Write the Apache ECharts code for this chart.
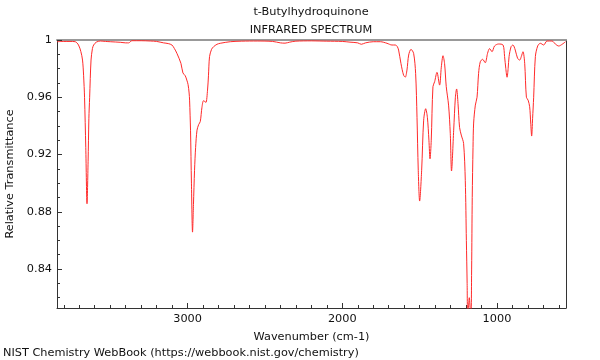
<!DOCTYPE html>
<html>
<head>
<meta charset="utf-8">
<script src="https://cdn.jsdelivr.net/npm/echarts@6/dist/echarts.min.js"></script>
<style>html,body{margin:0;padding:0;background:#fff}#c{width:600px;height:360px}</style>
</head>
<body>
<div id="c"></div>
<script>
const titleLines = ["t-Butylhydroquinone", "INFRARED SPECTRUM"];
const xName = "Wavenumber (cm-1)";
const yName = "Relative Transmittance";
const footer = "NIST Chemistry WebBook (https://webbook.nist.gov/chemistry)";

const wavenumbers = [
3844,3800,3760,3726,3705,3690,3679,3672,3666,3658,3650,3643,3638,3633,3624,3615,3607,3590,3564,3530,
3500,3435,3400,3381,3360,3300,3241,3200,3155,3125,3101,3085,3069,3043,3030,3015,3005,2997,2990,2987,
2981,2975,2968,2962,2955,2948,2939,2928,2918,2907,2897,2888,2881,2871,2865,2858,2845,2832,2810,2789,
2724,2650,2550,2450,2400,2370,2340,2300,2200,2100,2000,1950,1900,1877,1850,1800,1754,1711,1679,1657,
1645,1636,1621,1604,1593,1582,1571,1556,1539,1526,1517,1509,1500,1487,1474,1461,1450,1440,1433,1425,
1414,1403,1388,1371,1360,1349,1339,1328,1313,1302,1294,1280,1269,1261,1252,1242,1231,1216,1205,1198,
1193,1190,1185,1179,1173,1168,1164,1160,1155,1151,1140,1129,1119,1108,1093,1076,1061,1048,1032,1016,
990,961,951,943,935,928,922,909,897,882,867,853,843,832,821,810,799,789,782,776,
770,763,752,737,720,698,677,644,623,601,579,557
];
const transmittance = [
0.9988,0.9990,0.9990,0.9988,0.9965,0.992,0.986,0.975,0.960,0.925,0.8856,0.915,0.945,0.960,0.986,0.994,0.9965,0.9985,0.9993,0.999,
0.9988,0.9984,0.998,0.998,0.9995,0.9995,0.9993,0.999,0.998,0.9975,0.9965,0.994,0.9907,0.9837,0.977,0.9750,0.972,0.9690,0.963,0.958,
0.937,0.90,0.8658,0.885,0.909,0.925,0.937,0.941,0.943,0.953,0.9576,0.957,0.9564,0.965,0.975,0.9884,0.9935,0.9953,0.997,0.9977,
0.9988,0.9992,0.9993,0.999,0.998,0.9978,0.9985,0.9992,0.9994,0.9992,0.999,0.9985,0.998,0.997,0.998,0.9988,0.9988,0.9977,0.9965,0.9965,
0.9955,0.993,0.9837,0.9755,0.974,0.979,0.9895,0.9935,0.9907,0.9767,0.946,0.909,0.8875,0.909,0.944,0.952,0.946,0.93,0.917,0.930,
0.9674,0.9709,0.9774,0.9685,0.981,0.989,0.9837,0.9674,0.9545,0.9348,0.9085,0.937,0.960,0.9658,0.9557,0.939,0.9336,0.9278,0.902,0.86,
0.83,0.806,0.812,0.820,0.812,0.806,0.84,0.89,0.925,0.942,0.9545,0.960,0.9767,0.9848,0.9865,0.9841,0.9907,0.994,0.9918,0.9958,
0.9972,0.9965,0.9884,0.98,0.974,0.98,0.9884,0.9953,0.9965,0.993,0.9872,0.986,0.9884,0.9918,0.9837,0.960,0.958,0.9534,0.942,0.9329,
0.945,0.960,0.9884,0.9958,0.9977,0.9965,0.9993,0.9993,0.9972,0.9958,0.997,0.9988
];
const xMajorTicks = [1000, 2000, 3000];
const xMinorTicks = [600,700,800,900,1100,1200,1300,1400,1500,1600,1700,1800,1900,2100,2200,2300,2400,2500,2600,2700,2800,2900,3100,3200,3300,3400,3500,3600,3700,3800];
const yMajorTicks = [0.84, 0.88, 0.92, 0.96, 1];
const yMinorTicks = [0.82,0.83,0.85,0.86,0.87,0.89,0.90,0.91,0.93,0.94,0.95,0.97,0.98,0.99];
const xRange = [554, 3844];
const yRange = [0.8128, 1];

const data = wavenumbers.map((w, i) => [w, transmittance[i]]);
const FONT = "DejaVu Sans";
const FS = 11.3;
const CSSFONT = FS + 'px "DejaVu Sans"';
const chart = echarts.init(document.getElementById('c'), null, {renderer: 'canvas'});
const G = {left: 57, right: 34, top: 40, bottom: 52};

function xa(extra) {
  return Object.assign({
    type: 'value', inverse: true, min: xRange[0], max: xRange[1],
    splitLine: {show: false}, axisLabel: {show: false}, axisTick: {show: false}, axisLine: {show: false}
  }, extra);
}
function ya(extra) {
  return Object.assign({
    type: 'value', min: yRange[0], max: yRange[1],
    splitLine: {show: false}, axisLabel: {show: false}, axisTick: {show: false}, axisLine: {show: false}
  }, extra);
}

chart.setOption({
  animation: false,
  backgroundColor: '#fff',
  grid: G,
  xAxis: [
    xa({position: 'bottom',
        axisLine: {show: true, onZero: false, lineStyle: {color: '#333', width: 1}},
        axisTick: {show: true, inside: true, length: 5, customValues: xMajorTicks, lineStyle: {color: '#333'}},
        axisLabel: {show: true, customValues: xMajorTicks, margin: 6, color: '#111', fontFamily: FONT, fontSize: FS,
          formatter: v => String(Math.round(v))},
        name: xName, nameLocation: 'middle', nameGap: 24,
        nameTextStyle: {color: '#111', fontFamily: FONT, fontSize: FS}}),
    xa({position: 'bottom',
        axisTick: {show: true, inside: true, length: 3, customValues: xMinorTicks, lineStyle: {color: '#333'}}}),
    xa({position: 'top',
        axisLine: {show: true, onZero: false, lineStyle: {color: '#999', width: 2}}})
  ],
  yAxis: [
    ya({position: 'left',
        axisLine: {show: true, onZero: false, lineStyle: {color: '#333', width: 1}},
        axisTick: {show: true, inside: true, length: 5, customValues: yMajorTicks, lineStyle: {color: '#333'}},
        axisLabel: {show: true, customValues: yMajorTicks, margin: 5, color: '#111', fontFamily: FONT, fontSize: FS,
          formatter: v => String(+v.toFixed(2))}}),
    ya({position: 'left',
        axisTick: {show: true, inside: true, length: 3, customValues: yMinorTicks, lineStyle: {color: '#333'}}}),
    ya({position: 'right',
        axisLine: {show: true, onZero: false, lineStyle: {color: '#333', width: 1}}})
  ],
  graphic: [
    {type: 'text', x: 311, y: 12, style: {text: titleLines[0], fill: '#111', font: CSSFONT, align: 'center', verticalAlign: 'middle'}},
    {type: 'text', x: 311, y: 30, style: {text: titleLines[1], fill: '#111', font: CSSFONT, align: 'center', verticalAlign: 'middle'}},
    {type: 'text', x: 10, y: 174, rotation: Math.PI / 2, style: {text: yName, fill: '#111', font: CSSFONT, align: 'center', verticalAlign: 'middle'}},
    {type: 'text', x: 3, y: 353, style: {text: footer, fill: '#111', font: CSSFONT, align: 'left', verticalAlign: 'middle'}}
  ],
  series: [{
    type: 'line', xAxisIndex: 0, yAxisIndex: 0, data: data,
    showSymbol: false, smooth: 0.3, clip: true,
    lineStyle: {color: '#ff2a2a', width: 1}
  }]
});
</script>
</body>
</html>
